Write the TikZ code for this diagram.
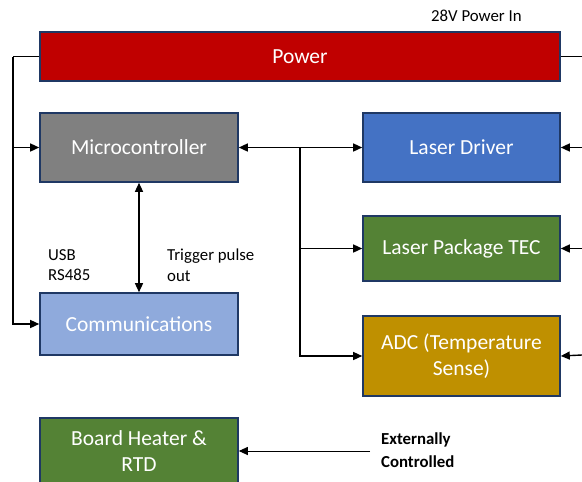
\documentclass[tikz,border=0pt]{standalone}
\usepackage{fontspec}
\setmainfont{Carlito}
\usetikzlibrary{arrows.meta}
\definecolor{pwr}{HTML}{C00000}
\definecolor{mcu}{HTML}{808080}
\definecolor{ldr}{HTML}{4472C4}
\definecolor{grn}{HTML}{548235}
\definecolor{adcc}{HTML}{BF9000}
\definecolor{com}{HTML}{8FAADC}
\definecolor{edge}{HTML}{1F3864}
\tikzset{
  blk/.style={draw=edge, line width=1.6pt, text=white, align=center, inner sep=0pt,
    font=\fontsize{21.5}{25.5}\selectfont},
  conn/.style={line width=1.4pt, -{Triangle[length=9pt,width=8pt]}},
  biconn/.style={line width=1.4pt, {Triangle[length=9pt,width=8pt]}-{Triangle[length=9pt,width=8pt]}},
  wire/.style={line width=1.4pt},
  lbl/.style={font=\fontsize{16.8}{20.5}\selectfont, align=left, inner sep=0pt}
}
\begin{document}
\begin{tikzpicture}[x=1pt,y=-1pt]
\useasboundingbox (0,0) rectangle (582,482);
% blocks
\node[blk, fill=pwr, minimum width=520pt, minimum height=49pt] (power) at (300,56.5) {Power};
\node[blk, fill=mcu, minimum width=198pt, minimum height=69pt] (micro) at (139,147.5) {Microcontroller};
\node[blk, fill=com, minimum width=198pt, minimum height=62pt] (comm) at (139,324) {Communications};
\node[blk, fill=grn, minimum width=198pt, minimum height=66pt] (heater) at (139,451) {Board Heater \&\\RTD};
\node[blk, fill=ldr, minimum width=197pt, minimum height=69pt] (laser) at (461.5,147.5) {Laser Driver};
\node[blk, fill=grn, minimum width=197pt, minimum height=65pt] (tec) at (461.5,248.5) {Laser Package TEC};
\node[blk, fill=adcc, minimum width=197pt, minimum height=80pt] (adc) at (461.5,356) {ADC (Temperature\\Sense)};
% labels
\node[lbl, anchor=west] (pin) at (431,16) {28V Power In};
\node[lbl, anchor=north west] (usb) at (48,249) {USB\\RS485};
\node[lbl, anchor=north west] (trig) at (167,249) {Trigger pulse\\out};
\node[lbl, anchor=west, font=\fontsize{16.8}{23}\selectfont\bfseries] (ext) at (381,450) {Externally\\Controlled};
% coordinates
\coordinate (pl) at (13,56.5);
\coordinate (pr) at (582,56.5);
\coordinate (bus) at (300,147.5);
\coordinate (inl) at (582,147.5);
\coordinate (int) at (582,248.5);
\coordinate (ina) at (582,355);
\coordinate (exs) at (370,451);
% power distribution
\draw[wire] (power.west) -- (pl);
\draw[conn] (pl) |- (micro.west);
\draw[conn] (pl) |- (comm.west);
\draw[wire] (power.east) -- (pr);
% bus
\draw[biconn] (micro.east) -- (laser.west);
\draw[conn] (bus) |- (tec.west);
\draw[conn] (bus) |- (adc.west);
% micro <-> comm
\draw[biconn] (micro.south) -- (comm.north);
% external inputs
\draw[conn] (inl) -- (laser.east);
\draw[conn] (int) -- (tec.east);
\draw[conn] (ina) -- (adc.east);
\draw[conn, line width=1pt] (exs) -- (heater.east);
\end{tikzpicture}
\end{document}
